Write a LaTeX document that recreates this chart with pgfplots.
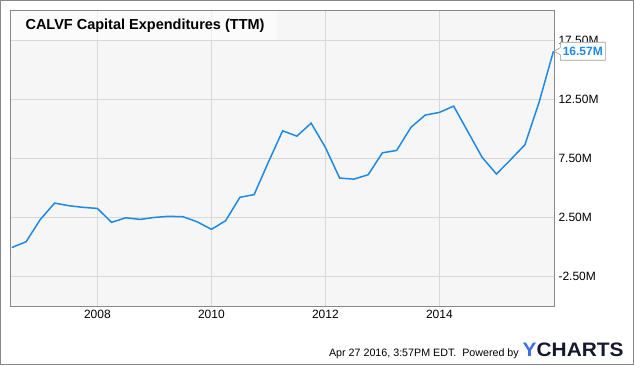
\documentclass[border=0pt]{standalone}
\usepackage{pgfplots}
\pgfplotsset{compat=1.18}
\usepackage{fontspec}
\setmainfont{Liberation Sans}
\usetikzlibrary{shapes.callouts}
\definecolor{lineblue}{RGB}{30,138,230}
\definecolor{plotbg}{RGB}{246,246,246}
\definecolor{gridc}{RGB}{216,216,216}
\definecolor{framec}{RGB}{136,136,136}
\definecolor{navy}{RGB}{22,24,45}
\definecolor{ylogo}{RGB}{60,110,230}
\pgfplotstableread{
x y
2006.5 -0.05
2006.75 0.44
2007.0 2.33
2007.25 3.71
2007.5 3.49
2007.75 3.35
2008.0 3.26
2008.25 2.08
2008.5 2.47
2008.75 2.33
2009.0 2.50
2009.25 2.59
2009.5 2.56
2009.75 2.13
2010.0 1.49
2010.25 2.22
2010.5 4.20
2010.75 4.43
2011.0 7.18
2011.25 9.83
2011.5 9.38
2011.75 10.48
2012.0 8.42
2012.25 5.83
2012.5 5.74
2012.75 6.11
2013.0 7.97
2013.25 8.17
2013.5 10.12
2013.75 11.16
2014.0 11.39
2014.25 11.92
2014.5 9.75
2014.75 7.58
2015.0 6.17
2015.25 7.39
2015.5 8.65
2015.75 12.28
2016.0 16.57
}\capex
\begin{document}
\begin{tikzpicture}[x=1pt,y=1pt]
\useasboundingbox (0,0) rectangle (635,366);
\draw[framec, line width=1pt] (0.5,1.5) rectangle (633.5,365.5);
\begin{axis}[
  at={(10.7pt,60pt)}, anchor=south west,
  scale only axis, width=543.3pt, height=295.3pt,
  xmin=2006.48, xmax=2016.01, ymin=-5, ymax=20,
  axis background/.style={fill=plotbg},
  axis line style={framec, line width=0.8pt},
  xtick={2008,2010,2012,2014},
  xticklabels={2008,2010,2012,2014},
  ytick={-2.5,2.5,7.5,12.5,17.5},
  yticklabels={-2.50M,2.50M,7.50M,12.50M,17.50M},
  ytick pos=right, xtick pos=bottom,
  major tick length=0pt,
  grid=major, major grid style={gridc, line width=0.8pt},
  tick label style={font=\fontsize{12}{14}\selectfont, text=black},
  xticklabel style={yshift=-1pt},
  yticklabel style={xshift=1pt},
  clip=false,
]
\fill[white, opacity=0.6] (axis cs:2006.48,20) rectangle ([xshift=266pt,yshift=-29.5pt]axis cs:2006.48,20);
\addplot[lineblue, line width=1.5pt, mark=none] table[x=x,y=y] {\capex};
\node[rectangle callout, callout absolute pointer={(axis cs:2016.01,16.57)},
  draw=gray!80, fill=white, line width=0.6pt, anchor=west, inner sep=2.5pt,
  minimum height=18pt, text=lineblue, font=\fontsize{12}{14}\selectfont\bfseries]
  at ([xshift=6pt]axis cs:2016.01,16.57) {16.57M};
\end{axis}
\node[anchor=base west, font=\fontsize{14.5}{17}\selectfont\bfseries] at (22,336) {CALVF Capital Expenditures (TTM)};
\node[anchor=base east, inner sep=0pt, font=\fontsize{10.7}{13}\selectfont] at (519,9.5) {Apr 27 2016, 3:57PM EDT.\ \ Powered by};
\node[anchor=base west, inner sep=0pt, font=\fontsize{19.5}{22}\selectfont\bfseries] at (522.5,9.5) {\scalebox{1.07}[1]{\textcolor{ylogo}{Y}\textcolor{navy}{CHARTS}}};
\end{tikzpicture}
\end{document}
